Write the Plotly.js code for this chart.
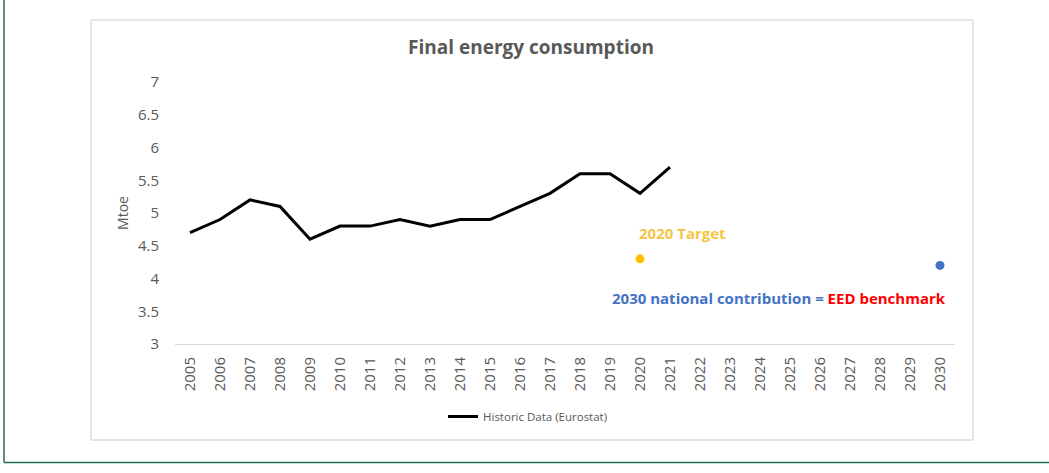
<!DOCTYPE html>
<html>
<head>
<meta charset="utf-8">
<script src="https://cdn.plot.ly/plotly-3.0.1.min.js"></script>
<style>
  html, body { margin: 0; padding: 0; background: #ffffff; }
  #chart { width: 1049px; height: 473px; }
</style>
</head>
<body>
<div id="chart"></div>
<script>
// Categories (x axis)
const years = ["2005","2006","2007","2008","2009","2010","2011","2012","2013","2014","2015","2016","2017","2018","2019","2020","2021","2022","2023","2024","2025","2026","2027","2028","2029","2030"];
// Historic data (Eurostat), Mtoe
const histYears = ["2005","2006","2007","2008","2009","2010","2011","2012","2013","2014","2015","2016","2017","2018","2019","2020","2021"];
const histValues = [4.7, 4.9, 5.2, 5.1, 4.6, 4.8, 4.8, 4.9, 4.8, 4.9, 4.9, 5.1, 5.3, 5.6, 5.6, 5.3, 5.7];
// Targets
const target2020Year = ["2020"];
const target2020Value = [4.3];
const target2030Year = ["2030"];
const target2030Value = [4.2];
const yTicks = [3, 3.5, 4, 4.5, 5, 5.5, 6, 6.5, 7];

const FONT = '"Open Sans", "Liberation Sans", sans-serif';
const GRAY = '#595959';

const traces = [
  {
    x: histYears, y: histValues, type: 'scatter', mode: 'lines',
    name: 'Historic Data (Eurostat)',
    line: { color: '#000000', width: 3 },
    showlegend: true
  },
  {
    x: target2020Year, y: target2020Value, type: 'scatter', mode: 'markers',
    name: '2020 Target', marker: { color: '#FFC000', size: 9 }, showlegend: false
  },
  {
    x: target2030Year, y: target2030Value, type: 'scatter', mode: 'markers',
    name: '2030 national contribution', marker: { color: '#4472C4', size: 9 }, showlegend: false
  }
];

// helpers for paper coords from page pixels (plot area: x 175..955, y 82..344)
const px = v => (v - 175) / 780;
const py = v => (344 - v) / 262;

const layout = {
  width: 1049, height: 473,
  margin: { l: 175, r: 94, t: 82, b: 129 },
  paper_bgcolor: '#ffffff', plot_bgcolor: '#ffffff',
  font: { family: FONT, color: GRAY },
  title: {
    text: '<b>Final energy consumption</b>',
    font: { family: FONT, size: 19, color: GRAY },
    x: px(531), xref: 'paper', xanchor: 'center',
    y: 1 - 47 / 473, yref: 'container', yanchor: 'middle'
  },
  xaxis: {
    type: 'category', categoryorder: 'array', categoryarray: years,
    tickvals: years, ticktext: years,
    range: [-0.5, years.length - 0.5],
    tickangle: -90, tickfont: { family: FONT, size: 15, color: GRAY },
    showgrid: false, zeroline: false,
    showline: true, linecolor: '#D9D9D9', linewidth: 1,
    ticks: '', ticklabelstandoff: 6
  },
  yaxis: {
    range: [3, 7], tickvals: yTicks, ticktext: yTicks.map(String),
    tickfont: { family: FONT, size: 15, color: GRAY },
    showgrid: false, zeroline: false, showline: false, ticks: '',
    ticklabelstandoff: 15,
    title: { text: 'Mtoe', font: { family: FONT, size: 14, color: GRAY }, standoff: 6 }
  },
  legend: {
    orientation: 'h', x: px(443), xanchor: 'left', y: py(402), yanchor: 'top',
    font: { family: FONT, size: 11.5, color: GRAY },
    bgcolor: 'rgba(0,0,0,0)'
  },
  annotations: [
    {
      text: '<b>2020 Target</b>', xref: 'paper', yref: 'paper',
      x: px(682), y: py(233), xanchor: 'center', yanchor: 'middle', showarrow: false,
      font: { family: FONT, size: 15, color: '#F6C445' }
    },
    {
      text: '<b><span style="color:#4472C4">2030 national contribution = </span><span style="color:#FF0000">EED benchmark</span></b>',
      xref: 'paper', yref: 'paper',
      x: px(779), y: py(298), xanchor: 'center', yanchor: 'middle', showarrow: false,
      font: { family: FONT, size: 15, color: '#4472C4' }
    }
  ],
  shapes: [
    // chart box
    { type: 'rect', xref: 'paper', yref: 'paper', x0: px(91), x1: px(973), y0: py(440), y1: py(20),
      line: { color: '#DDDDDD', width: 1.5 }, fillcolor: 'rgba(0,0,0,0)', layer: 'below' },
    // outer green frame: left and bottom
    { type: 'line', xref: 'paper', yref: 'paper', x0: px(4), x1: px(4), y0: py(0), y1: py(462.5),
      line: { color: '#1F6B5C', width: 1.5 } },
    { type: 'line', xref: 'paper', yref: 'paper', x0: px(4), x1: px(1049), y0: py(462.5), y1: py(462.5),
      line: { color: '#1F6B5C', width: 1.5 } }
  ]
};

Plotly.newPlot('chart', traces, layout, { displayModeBar: false, staticPlot: true });
</script>
</body>
</html>
